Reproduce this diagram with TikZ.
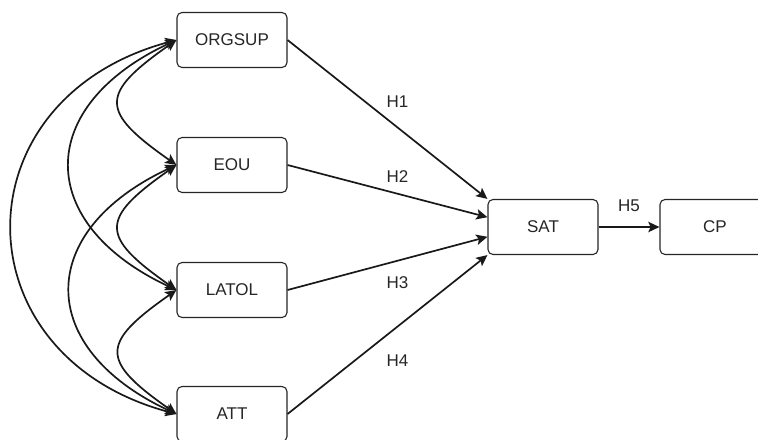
\documentclass[tikz,border=0pt]{standalone}
\usepackage{fontspec}
\setmainfont{Liberation Sans}
\usetikzlibrary{arrows.meta}
\tikzset{
  construct/.style={rectangle, draw=black!85, fill=white, rounded corners=2.5pt, line width=0.55pt, minimum width=55pt, minimum height=27.5pt, inner sep=1pt, font=\fontsize{8.5}{10}\selectfont, text=black!85},
  hyp/.style={-{Stealth[length=5.6pt, width=5.2pt, inset=1.2pt]}, line width=0.85pt, black!90},
  corr/.style={{Stealth[length=5.6pt, width=5.2pt, inset=1.2pt]}-{Stealth[length=5.6pt, width=5.2pt, inset=1.2pt]}, line width=0.85pt, black!90},
  hlabel/.style={font=\fontsize{8.5}{10}\selectfont, text=black!85, inner sep=0pt}
}
\begin{document}
\begin{tikzpicture}[x=0.5pt, y=-0.5pt]
  \useasboundingbox (0,0) rectangle (758,439);
  \node[construct] (orgsup) at (232,40) {ORGSUP};
  \node[construct] (eou) at (232,165) {EOU};
  \node[construct] (latol) at (232,290) {LATOL};
  \node[construct] (att) at (232,414) {ATT};
  \node[construct] (sat) at (543,227) {SAT};
  \node[construct] (cp) at (715,227) {CP};
  \draw[hyp] (orgsup.east) -- node[hlabel, pos=0.55, yshift=12.9pt] (h1) {H1} (sat.north west);
  \draw[hyp] (eou.east) -- node[hlabel, pos=0.55, yshift=8.5pt] (h2) {H2} (sat.170);
  \draw[hyp] (latol.east) -- node[hlabel, pos=0.55, yshift=-11pt] (h3) {H3} (sat.190);
  \draw[hyp] (att.east) -- node[hlabel, pos=0.55, yshift=-16.9pt] (h4) {H4} (sat.south west);
  \draw[hyp] (sat.east) -- node[hlabel, yshift=10.5pt] (h5) {H5} (cp.west);
  \draw[corr] (orgsup.west) to[out=215, in=145, looseness=1.93] (eou.west);
  \draw[corr] (eou.west) to[out=215, in=145, looseness=1.93] (latol.west);
  \draw[corr] (latol.west) to[out=215, in=145, looseness=1.93] (att.west);
  \draw[corr] (orgsup.west) to[out=205, in=155, looseness=1.61] (latol.west);
  \draw[corr] (eou.west) to[out=205, in=155, looseness=1.61] (att.west);
  \draw[corr] (orgsup.west) to[out=195, in=165, looseness=1.555] (att.west);
\end{tikzpicture}
\end{document}
